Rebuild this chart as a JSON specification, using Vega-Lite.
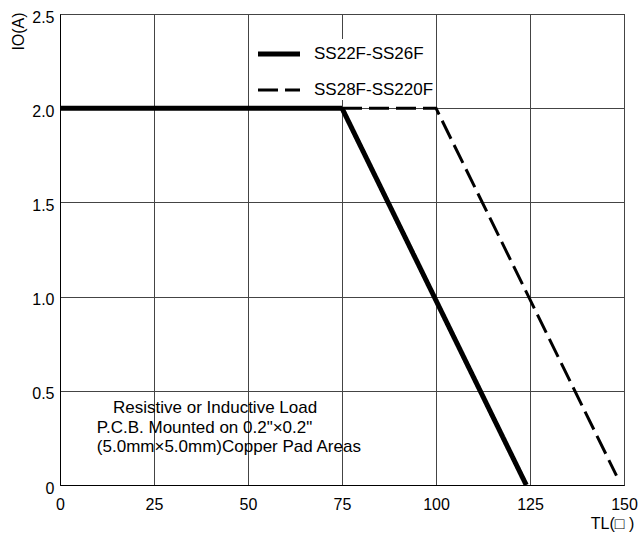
{
  "$schema": "https://vega.github.io/schema/vega-lite/v6.json",
  "width": 564,
  "height": 471,
  "autosize": {"type": "none"},
  "padding": {"left": 60, "top": 14, "right": 16, "bottom": 50},
  "background": "white",
  "config": {
    "font": "Liberation Sans",
    "view": {"stroke": "black", "strokeWidth": 1},
    "axis": {
      "grid": true,
      "gridColor": "#444444",
      "gridWidth": 1,
      "gridOpacity": 1,
      "domainColor": "black",
      "domainWidth": 1,
      "ticks": false,
      "labelFont": "Liberation Sans",
      "labelFontSize": 16,
      "labelColor": "black",
      "titleFont": "Liberation Sans",
      "titleFontSize": 16,
      "titleFontWeight": "normal",
      "titleColor": "black"
    }
  },
  "datasets": {
    "curves": [
      {"series": "SS22F-SS26F", "t": 0, "io": 2.0},
      {"series": "SS22F-SS26F", "t": 75, "io": 2.0},
      {"series": "SS22F-SS26F", "t": 124, "io": 0.0},
      {"series": "SS28F-SS220F", "t": 75, "io": 2.0},
      {"series": "SS28F-SS220F", "t": 100, "io": 2.0},
      {"series": "SS28F-SS220F", "t": 148, "io": 0.05}
    ],
    "notes": [
      {"t": 14.1, "io": 0.41, "label": "Resistive or Inductive Load"},
      {"t": 9.8, "io": 0.305, "label": "P.C.B. Mounted on 0.2\"×0.2\""},
      {"t": 9.8, "io": 0.2, "label": "(5.0mm×5.0mm)Copper Pad Areas"}
    ]
  },
  "layer": [
    {
      "data": {"name": "curves"},
      "mark": {"type": "line", "color": "black", "strokeCap": "butt", "strokeJoin": "miter"},
      "encoding": {
        "x": {
          "field": "t",
          "type": "quantitative",
          "scale": {"domain": [0, 150], "nice": false, "zero": false},
          "axis": {
            "values": [0, 25, 50, 75, 100, 125, 150],
            "title": "TL(□ )",
            "titleX": 552,
            "titleY": 38,
            "titleAlign": "center",
            "titleBaseline": "middle",
            "labelPadding": 11,
            "labelFlush": false
          }
        },
        "y": {
          "field": "io",
          "type": "quantitative",
          "scale": {"domain": [0, 2.5], "nice": false},
          "axis": {
            "values": [0, 0.5, 1, 1.5, 2, 2.5],
            "labelExpr": "datum.value == 0 ? '0' : format(datum.value, '.1f')",
            "title": "IO(A)",
            "titleX": -42,
            "titleY": 17,
            "titleAngle": -90,
            "titleAlign": "center",
            "titleBaseline": "middle",
            "labelPadding": 6,
            "labelOffset": 3,
            "labelFlush": false
          }
        },
        "detail": {"field": "series"},
        "strokeDash": {
          "field": "series",
          "type": "nominal",
          "scale": {"domain": ["SS22F-SS26F", "SS28F-SS220F"], "range": [[1, 0], [20, 7]]},
          "legend": {
            "orient": "none",
            "legendX": 204,
            "legendY": 25,
            "title": null,
            "fillColor": "white",
            "padding": 2,
            "symbolType": "M-2,0H2",
            "symbolSize": 441,
            "symbolStrokeWidth": 4,
            "symbolStrokeColor": "black",
            "symbolDash": {"expr": "datum.value == 'SS22F-SS26F' ? [1,0] : [17,5]"},
            "labelFontSize": 17,
            "labelFont": "Liberation Sans",
            "labelColor": "black",
            "labelOffset": 22,
            "rowPadding": 14
          }
        },
        "strokeWidth": {
          "field": "series",
          "type": "nominal",
          "scale": {"domain": ["SS22F-SS26F", "SS28F-SS220F"], "range": [5, 3]},
          "legend": null
        }
      }
    },
    {
      "data": {"name": "notes"},
      "mark": {"type": "text", "align": "left", "baseline": "middle", "font": "Liberation Sans", "fontSize": 17, "color": "black"},
      "encoding": {
        "x": {"field": "t", "type": "quantitative"},
        "y": {"field": "io", "type": "quantitative"},
        "text": {"field": "label"}
      }
    }
  ]
}
